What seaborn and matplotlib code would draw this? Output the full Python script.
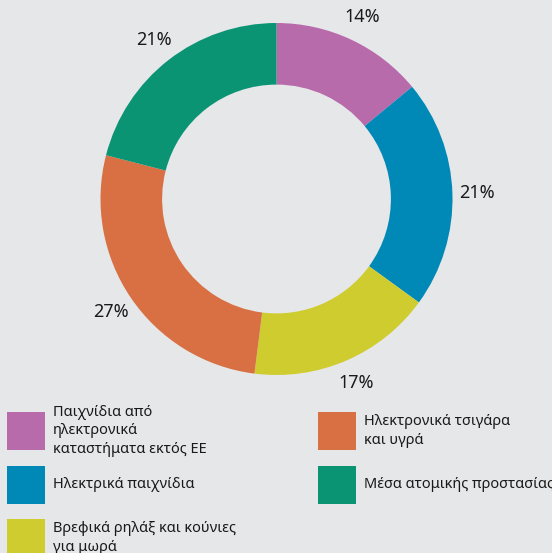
import numpy as np
import matplotlib
matplotlib.use("Agg")
import matplotlib.pyplot as plt
from matplotlib.patches import Rectangle
import seaborn as sns

# ---- data ----
categories = [
    "Παιχνίδια από\nηλεκτρονικά\nκαταστήματα εκτός ΕΕ",
    "Ηλεκτρικά παιχνίδια",
    "Βρεφικά ρηλάξ και κούνιες\nγια μωρά",
    "Ηλεκτρονικά τσιγάρα\nκαι υγρά",
    "Μέσα ατομικής προστασίας",
]
values = [14, 21, 17, 27, 21]
colors_hex = ["#b86bab", "#0088b7", "#cfcc2f", "#d87043", "#0a9474"]

sns.set_theme(style="white")
plt.rcParams["font.family"] = ["Noto Sans", "DejaVu Sans"]

BG = "#e6e7e9"
W, H = 552, 553
fig = plt.figure(figsize=(W / 100, H / 100), dpi=100, facecolor=BG)

palette = sns.color_palette(colors_hex)

# donut axes: centre (276.5, 199) px, outer radius 176 px
R = 176.0
L = 1.3
cx, cy = 276.5, 199.0
side = 2 * L * R
ax = fig.add_axes([(cx - side / 2) / W, (H - cy - side / 2) / H, side / W, side / H])
ax.set_facecolor(BG)

wedges, _ = ax.pie(
    values,
    colors=palette,
    startangle=90,
    counterclock=False,
    radius=1.0,
    wedgeprops=dict(width=0.35, linewidth=0),
)
ax.set_xlim(-L, L)
ax.set_ylim(-L, L)
ax.axis("off")

for w, v in zip(wedges, values):
    ang = np.deg2rad((w.theta1 + w.theta2) / 2)
    r = 1.14
    ax.text(r * np.cos(ang), r * np.sin(ang), f"{v}%", ha="center", va="center",
            fontsize=13, color="#1a1a1a")

# legend: 3 rows per column
size = 38
for i, (lab, col) in enumerate(zip(categories, palette)):
    c, rrow = i // 3, i % 3
    x0 = 7 + c * 311
    top = 412 + rrow * 53.5
    fig.add_artist(Rectangle((x0 / W, 1 - (top + size) / H), size / W, size / H,
                             transform=fig.transFigure, facecolor=col, edgecolor="none"))
    fig.text((x0 + 46) / W, 1 - (top + size / 2) / H, lab, ha="left", va="center",
             fontsize=10.5, linespacing=1.3, color="#1a1a1a")

fig.savefig("out.png", dpi=100, facecolor=BG)
